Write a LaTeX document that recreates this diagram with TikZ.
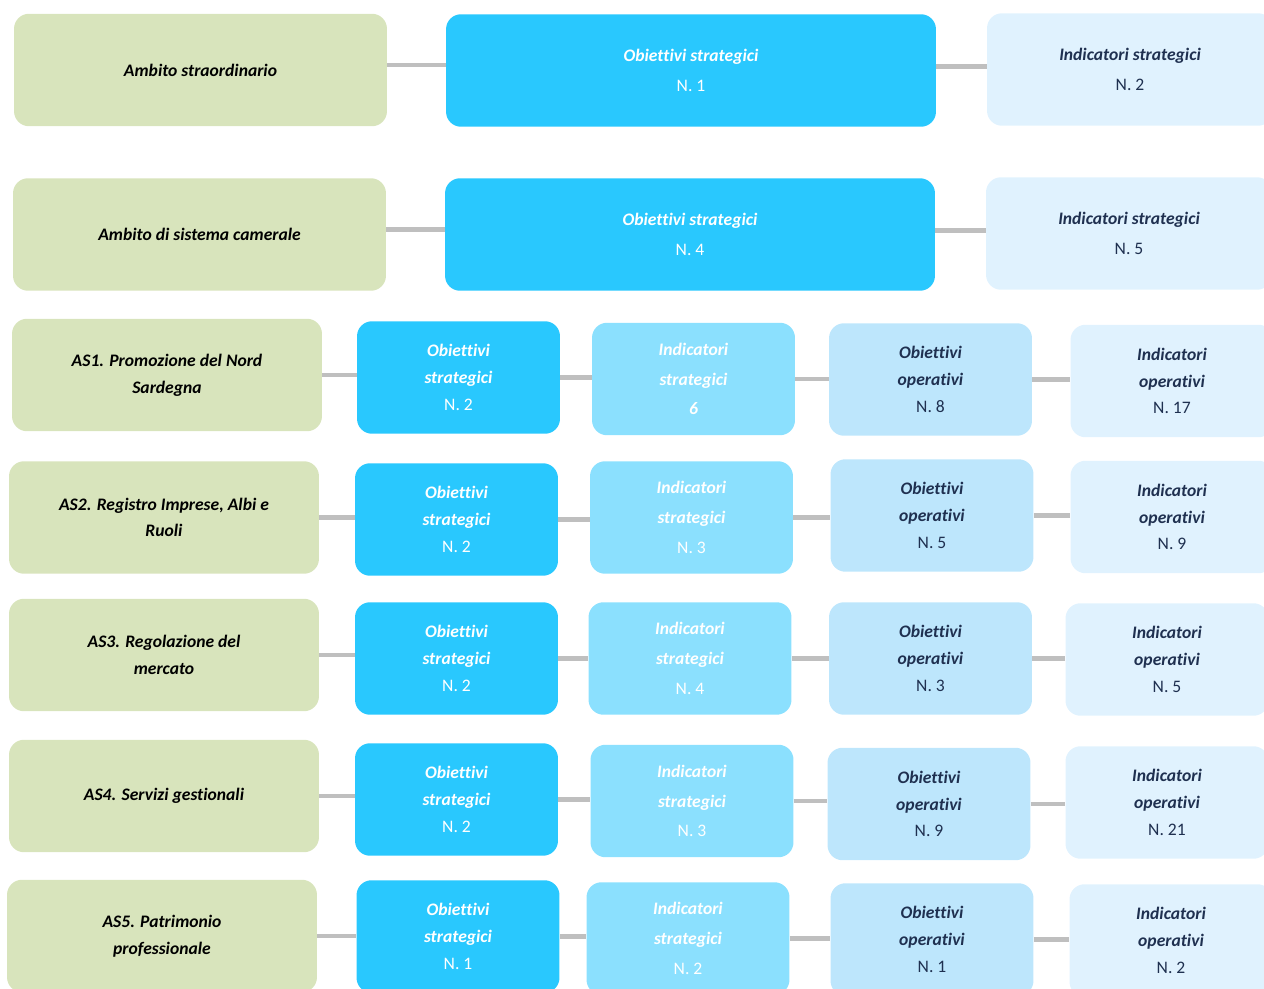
\documentclass[tikz,border=0pt]{standalone}
\usepackage{fontspec}
\setmainfont{Carlito}[Ligatures=NoCommon]
\usepackage{xcolor}
\usetikzlibrary{positioning}

\definecolor{ambgreen}{HTML}{D8E4BC}
\definecolor{obsblue}{HTML}{29C8FE}
\definecolor{insblue}{HTML}{8BE0FE}
\definecolor{obopale}{HTML}{BDE6FC}
\definecolor{inopale}{HTML}{E0F2FE}
\definecolor{navy}{HTML}{1F3050}
\definecolor{linkgray}{HTML}{BFBFBF}

\newcommand{\ttl}[1]{{\bfseries\itshape #1}}

\begin{document}
\begin{tikzpicture}[x=0.02cm, y=-0.02cm,
  box/.style={rounded corners=0.3cm, align=center, inner sep=2pt,
    minimum height=2.25cm, font=\fontsize{10}{15.2}\selectfont},
  wide/.style={font=\fontsize{10}{17}\selectfont},
  amb/.style={box, fill=ambgreen, text=black, minimum width=6.2cm},
  obs/.style={box, fill=obsblue, text=white, minimum width=4.06cm},
  ins/.style={box, fill=insblue, text=white, minimum width=4.06cm, wide},
  obo/.style={box, fill=obopale, text=navy, minimum width=4.06cm},
  ino/.style={box, fill=inopale, text=navy, minimum width=4.06cm},
  link/.style={draw=linkgray, line width=2.3pt}]
\useasboundingbox (0,0) rectangle (1264,989);
\clip (0,0) rectangle (1264,989);

% top rows
\node[amb, minimum width=7.46cm] (A1) at (200.5,70) {\ttl{Ambito straordinario}};
\node[obs, wide, minimum width=9.8cm] (A2) at (691,70.5) {\ttl{Obiettivi strategici}\\N. 1};
\node[ino, wide, minimum width=5.72cm] (A3) at (1130,69.5) {\ttl{Indicatori strategici}\\N. 2};

\node[amb, minimum width=7.46cm] (B1) at (199.5,234.5) {\ttl{Ambito di sistema camerale}};
\node[obs, wide, minimum width=9.8cm] (B2) at (690,234.5) {\ttl{Obiettivi strategici}\\N. 4};
\node[ino, wide, minimum width=5.72cm] (B3) at (1129,233.5) {\ttl{Indicatori strategici}\\N. 5};

% AS1
\node[amb] (C1) at (167,375) {\ttl{AS1. Promozione del Nord}\\\ttl{Sardegna}};
\node[obs] (C2) at (458.5,377.5) {\ttl{Obiettivi}\\\ttl{strategici}\\N. 2};
\node[ins] (C3) at (693.5,379) {\ttl{Indicatori}\\\ttl{strategici}\\\ttl{6}};
\node[obo] (C4) at (930.5,379.5) {\ttl{Obiettivi}\\\ttl{operativi}\\N. 8};
\node[ino] (C5) at (1172,381) {\ttl{Indicatori}\\\ttl{operativi}\\N. 17};

% AS2
\node[amb] (D1) at (164,517.5) {\ttl{AS2. Registro Imprese, Albi e}\\\ttl{Ruoli}};
\node[obs] (D2) at (456.5,519.5) {\ttl{Obiettivi}\\\ttl{strategici}\\N. 2};
\node[ins] (D3) at (691.5,517.5) {\ttl{Indicatori}\\\ttl{strategici}\\N. 3};
\node[obo] (D4) at (932,515.5) {\ttl{Obiettivi}\\\ttl{operativi}\\N. 5};
\node[ino] (D5) at (1172,517) {\ttl{Indicatori}\\\ttl{operativi}\\N. 9};

% AS3
\node[amb] (E1) at (164,655) {\ttl{AS3. Regolazione del}\\\ttl{mercato}};
\node[obs] (E2) at (456.5,658.5) {\ttl{Obiettivi}\\\ttl{strategici}\\N. 2};
\node[ins] (E3) at (690,658.5) {\ttl{Indicatori}\\\ttl{strategici}\\N. 4};
\node[obo] (E4) at (930.5,658.5) {\ttl{Obiettivi}\\\ttl{operativi}\\N. 3};
\node[ino] (E5) at (1167,659.5) {\ttl{Indicatori}\\\ttl{operativi}\\N. 5};

% AS4
\node[amb] (F1) at (164,796) {\ttl{AS4. Servizi gestionali}};
\node[obs] (F2) at (456.5,799.5) {\ttl{Obiettivi}\\\ttl{strategici}\\N. 2};
\node[ins] (F3) at (692,801) {\ttl{Indicatori}\\\ttl{strategici}\\N. 3};
\node[obo] (F4) at (929,804) {\ttl{Obiettivi}\\\ttl{operativi}\\N. 9};
\node[ino] (F5) at (1167,802.5) {\ttl{Indicatori}\\\ttl{operativi}\\N. 21};

% AS5
\node[amb] (G1) at (162,936) {\ttl{AS5. Patrimonio}\\\ttl{professionale}};
\node[obs] (G2) at (458,936.5) {\ttl{Obiettivi}\\\ttl{strategici}\\N. 1};
\node[ins] (G3) at (688,938.5) {\ttl{Indicatori}\\\ttl{strategici}\\N. 2};
\node[obo] (G4) at (932,939.5) {\ttl{Obiettivi}\\\ttl{operativi}\\N. 1};
\node[ino] (G5) at (1171,940.5) {\ttl{Indicatori}\\\ttl{operativi}\\N. 2};

% links
\foreach \r in {A,B} {
  \draw[link] ([yshift=0.1cm]\r1.east) -- ([yshift=0.1cm]\r1.east -| \r2.west);
  \draw[link] ([yshift=0.08cm]\r2.east) -- ([yshift=0.08cm]\r2.east -| \r3.west);
}
\foreach \r in {C,D,E,F,G} {
  \draw[link] (\r1.east) -- (\r1.east -| \r2.west);
  \draw[link] (\r2.east) -- (\r2.east -| \r3.west);
  \draw[link] (\r3.east) -- (\r3.east -| \r4.west);
  \draw[link] (\r4.east) -- (\r4.east -| \r5.west);
}
\end{tikzpicture}
\end{document}
